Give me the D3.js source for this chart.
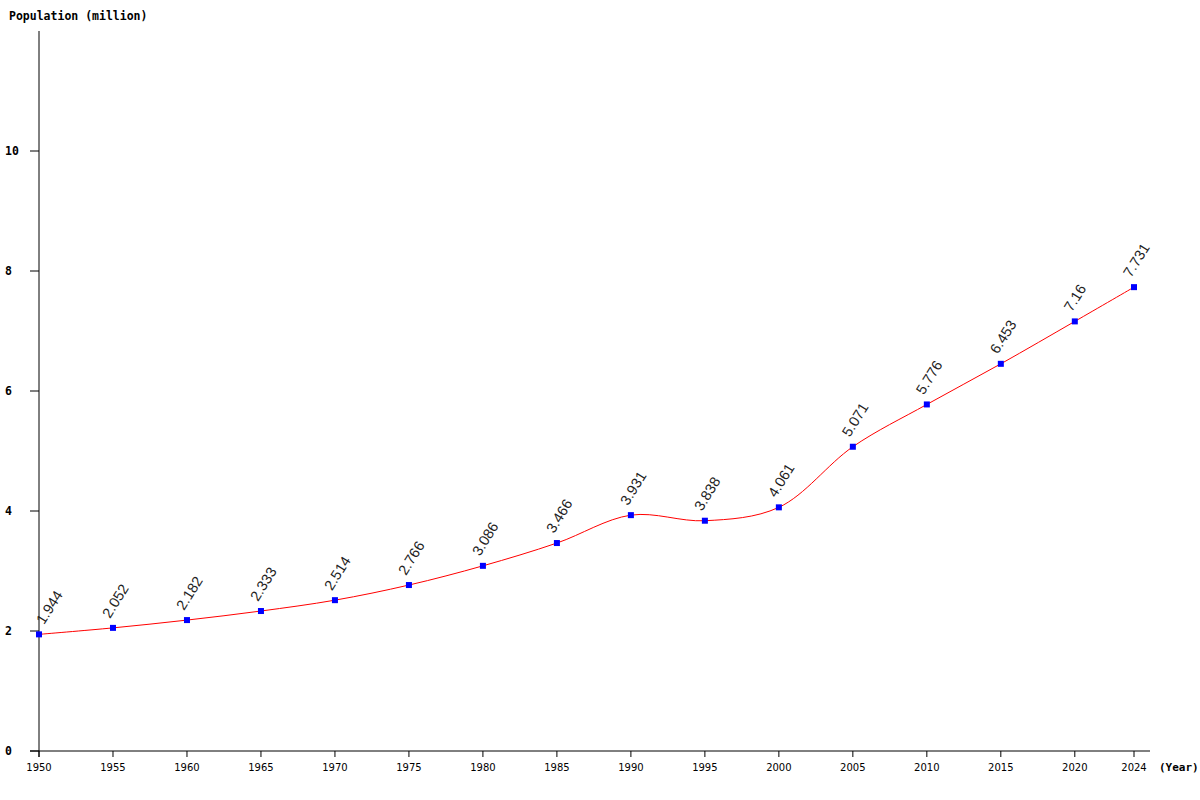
<!DOCTYPE html>
<html>
<head>
<meta charset="utf-8">
<script src="https://cdn.jsdelivr.net/npm/d3@7"></script>
<style>
  body { margin: 0; background: #fff; }
</style>
</head>
<body>
<div id="wrapper"></div>
<script>
// data
const years = [1950, 1955, 1960, 1965, 1970, 1975, 1980, 1985, 1990, 1995, 2000, 2005, 2010, 2015, 2020, 2024]
const population = [1.944, 2.052, 2.182, 2.333, 2.514, 2.766, 3.086, 3.466, 3.931, 3.838, 4.061, 5.071, 5.776, 6.453, 7.16, 7.731]
const yTicks = [0, 2, 4, 6, 8, 10]

const dataset = years.map((y, i) => ({ year: y, value: population[i] }))

const width = 1200
const height = 800

const svg = d3.select("#wrapper")
    .append("svg")
    .attr("width", width)
    .attr("height", height)

const xScale = d3.scaleLinear()
    .domain([1950, 2024])
    .range([39, 1134])

const yScale = d3.scaleLinear()
    .domain([0, 12])
    .range([751, 31])

const mono = "'DejaVu Sans Mono', monospace"

// axes
svg.append("line")
    .attr("x1", xScale(1950)).attr("x2", xScale(1950))
    .attr("y1", yScale(12)).attr("y2", yScale(0) + 6)
    .attr("stroke", "black")

svg.append("line")
    .attr("x1", xScale(1950) - 9).attr("x2", 1150)
    .attr("y1", yScale(0)).attr("y2", yScale(0))
    .attr("stroke", "black")

svg.selectAll(".ytick")
    .data(yTicks)
    .join("line")
    .attr("x1", xScale(1950) - 9).attr("x2", xScale(1950))
    .attr("y1", d => yScale(d)).attr("y2", d => yScale(d))
    .attr("stroke", "black")

svg.selectAll(".ylabel")
    .data(yTicks)
    .join("text")
    .attr("x", 5)
    .attr("y", d => yScale(d) + 4)
    .style("font-family", mono)
    .style("font-size", "11.5px")
    .style("font-weight", "bold")
    .text(d => d)

svg.selectAll(".xtick")
    .data(years)
    .join("line")
    .attr("x1", d => xScale(d)).attr("x2", d => xScale(d))
    .attr("y1", yScale(0)).attr("y2", yScale(0) + 6)
    .attr("stroke", "black")

svg.selectAll(".xlabel")
    .data(years)
    .join("text")
    .attr("x", d => xScale(d))
    .attr("y", yScale(0) + 20)
    .attr("text-anchor", "middle")
    .style("font-family", "'DejaVu Sans', sans-serif")
    .style("font-size", "10px")
    .text(d => d)

svg.append("text")
    .attr("x", 9).attr("y", 20)
    .style("font-family", mono)
    .style("font-size", "11.5px")
    .style("font-weight", "bold")
    .text("Population (million)")

svg.append("text")
    .attr("x", 1159).attr("y", yScale(0) + 20)
    .style("font-family", mono)
    .style("font-size", "11px")
    .style("font-weight", "bold")
    .text("(Year)")

// line
const lineGenerator = d3.line()
    .x(d => xScale(d.year))
    .y(d => yScale(d.value))
    .curve(d3.curveCatmullRom.alpha(0.5))

svg.append("path")
    .datum(dataset)
    .attr("d", lineGenerator)
    .attr("fill", "none")
    .attr("stroke", "red")
    .attr("stroke-width", 1)

// markers
svg.selectAll(".marker")
    .data(dataset)
    .join("rect")
    .attr("x", d => xScale(d.year) - 3)
    .attr("y", d => yScale(d.value) - 3)
    .attr("width", 6)
    .attr("height", 6)
    .attr("fill", "blue")

// value labels (kept right of the y axis)
svg.selectAll(".vlabel")
    .data(dataset)
    .join("text")
    .attr("transform", d => `translate(${Math.max(xScale(d.year) - 3, 44)}, ${yScale(d.value) - 9}) rotate(-58)`)
    .style("font-family", "'Liberation Sans', Arial, sans-serif")
    .style("font-size", "14.5px")
    .attr("fill", "#222")
    .text(d => d.value)
</script>
</body>
</html>
